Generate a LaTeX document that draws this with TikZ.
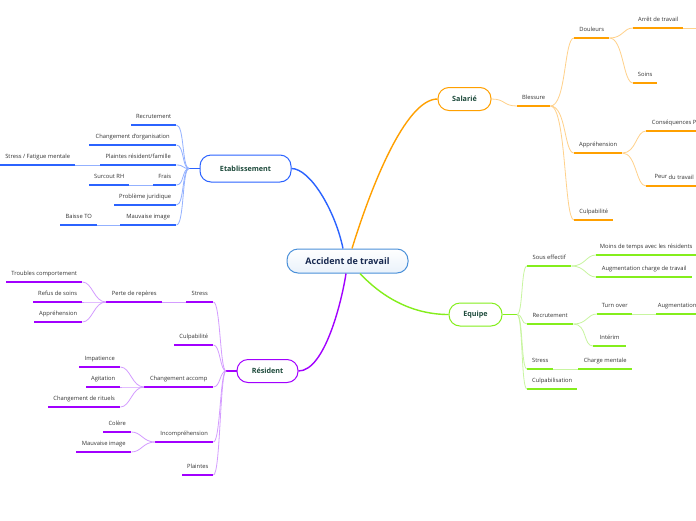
\documentclass[tikz,border=0pt]{standalone}
\usepackage{fontspec}
\setmainfont{Open Sans}
\definecolor{cB}{HTML}{2B63FF}
\definecolor{cBl}{HTML}{93B1FF}
\definecolor{cO}{HTML}{FFA000}
\definecolor{cOl}{HTML}{FFD18A}
\definecolor{cG}{HTML}{84EE1C}
\definecolor{cGl}{HTML}{C8F5A0}
\definecolor{cP}{HTML}{A200FF}
\definecolor{cPl}{HTML}{D49CFF}
\definecolor{cC}{HTML}{4A90D9}
\definecolor{txt}{HTML}{333333}
\definecolor{ttl}{HTML}{1D4A3B}
\definecolor{ctl}{HTML}{16284F}
\newcommand\lff{\fontsize{5.8}{7}\selectfont}
\newcommand\tbf{\fontsize{7.2}{9}\selectfont\bfseries}
\newcommand\cbf{\fontsize{9}{11}\selectfont\bfseries}
\tikzset{
  lf/.style={anchor=south west, inner sep=0pt, text height=4.4pt, text depth=6.3pt,
    font=\lff, text=txt,
    append after command={(\tikzlastnode.south west) edge[draw=#1, line width=1.6pt] (\tikzlastnode.south east)}},
  tb/.style={rounded corners=11pt, draw=#1, line width=1pt, fill=white, font=\tbf, text=ttl, inner sep=0pt},
  mn/.style={draw=#1, line width=1.4pt},
  cn/.style={draw=#1, line width=0.8pt},
}
\begin{document}
\begin{tikzpicture}[x=1pt,y=-1pt]
\clip (0,0) rectangle (696,520);
\fill[white] (0,0) rectangle (696,520);

% main nodes
\node[rounded corners=11pt, draw=cC, line width=1pt, top color=white, bottom color=cC!12,
      font=\cbf, text=ctl, minimum width=121, minimum height=24, inner sep=0pt] (C) at (347.5,261) {Accident de travail};
\node[tb=cB, minimum width=91, minimum height=27] (E) at (245.5,168.5) {Etablissement};
\node[tb=cO, minimum width=53, minimum height=23] (S) at (464.5,99) {Salarié};
\node[tb=cG, minimum width=53, minimum height=23] (Q) at (475.5,314.5) {Equipe};
\node[tb=cP, minimum width=61, minimum height=23] (R) at (267.5,371) {Résident};

% main connectors
\draw[mn=cB] ([xshift=-4.5pt]C.north) .. controls (335,210) and (310,168.5) .. (E.east);
\draw[mn=cO] ([xshift=4.5pt]C.north) .. controls (370,190) and (405,99) .. (S.west);
\draw[mn=cG] ([xshift=12.5pt]C.south) .. controls (380,295) and (410,314.5) .. (Q.west);
\draw[mn=cP] ([xshift=-1.5pt]C.south) .. controls (342,300) and (325,371) .. (R.east);

% ---------------- Etablissement
\node[lf=cB, minimum width=45] (b1) at (131,125) {Recrutement};
\node[lf=cB, minimum width=87] (b2) at (89,145) {Changement d’organisation};
\node[lf=cB, minimum width=76] (b3) at (100,165) {Plaintes résident/famille};
\node[lf=cB, minimum width=75] (b3a) at (0,165) {Stress / Fatigue mentale};
\node[lf=cB, minimum width=23] (b4) at (153,185) {Frais};
\node[lf=cB, minimum width=40] (b4a) at (89,185) {Surcout RH};
\node[lf=cB, minimum width=62] (b5) at (114,205) {Problème juridique};
\node[lf=cB, minimum width=56] (b6) at (120,225) {Mauvaise image};
\node[lf=cB, minimum width=37] (b6a) at (60,225) {Baisse TO};
\coordinate (hE) at (189,168.5);
\draw[mn=cB] (E.west) -- (hE);
\foreach \n in {b1,b2,b3,b4,b5,b6}
  \draw[cn=cBl] (\n.south east) .. controls +(8,0) and +(-7,0) .. (hE);
\draw[cn=cBl] (b3a.south east) -- (b3.south west);
\draw[cn=cBl] (b4a.south east) -- (b4.south west);
\draw[cn=cBl] (b6a.south east) -- (b6.south west);

% ---------------- Salarie
\node[lf=cO, minimum width=33] (o1) at (517,106) {Blessure};
\node[lf=cO, minimum width=35] (o2) at (574,38) {Douleurs};
\node[lf=cO, minimum width=48] (o3) at (574,153) {Appréhension};
\node[lf=cO, minimum width=39] (o4) at (574,220) {Culpabilité};
\node[lf=cO, minimum width=50] (o5) at (633,28) {Arrêt de travail};
\node[lf=cO, minimum width=24] (o6) at (633,83) {Soins};
\node[lf=cO, minimum width=56] (o7) at (646,131) {Conséquences P};
\node[lf=cO, minimum width=56] (o8) at (646,186) {\raisebox{1.5pt}{Peur} du travail};
\coordinate (o5x) at (700,28);
\draw[cn=cOl] (S.east) .. controls +(14,0) and +(-14,0) .. (o1.south west);
\foreach \n in {o2,o3,o4}
  \draw[cn=cOl] (o1.south east) .. controls +(16,0) and +(-10,0) .. (\n.south west);
\foreach \n in {o5,o6}
  \draw[cn=cOl] (o2.south east) .. controls +(14,0) and +(-10,0) .. (\n.south west);
\foreach \n in {o7,o8}
  \draw[cn=cOl] (o3.south east) .. controls +(14,0) and +(-10,0) .. (\n.south west);
\draw[cn=cOl] (o5.south east) -- (o5x);

% ---------------- Equipe
\node[lf=cG, minimum width=44] (g1) at (527,266) {Sous effectif};
\node[lf=cG, minimum width=46] (g2) at (527,324) {Recrutement};
\node[lf=cG, minimum width=26] (g3) at (527,369) {Stress};
\node[lf=cG, minimum width=50] (g4) at (527,389) {Culpabilisation};
\node[lf=cG, minimum width=100] (g5) at (596,255) {Moins de temps avec les résidents};
\node[lf=cG, minimum width=96] (g6) at (596,277) {Augmentation charge de travail};
\node[lf=cG, minimum width=35] (g7) at (597,314) {Turn over};
\node[lf=cG, minimum width=33] (g8) at (593,346) {Intérim};
\node[lf=cG, minimum width=42] (g9) at (656,314) {Augmentation};
\node[lf=cG, minimum width=54] (g10) at (578,369) {Charge mentale};
\coordinate (hQ) at (517,314.5);
\draw[mn=cG] (Q.east) -- (hQ);
\foreach \n in {g1,g2,g3,g4}
  \draw[cn=cGl] (hQ) .. controls +(6,0) and +(-6,0) .. (\n.south west);
\foreach \n in {g5,g6}
  \draw[cn=cGl] (g1.south east) .. controls +(14,0) and +(-10,0) .. (\n.south west);
\foreach \n in {g7,g8}
  \draw[cn=cGl] (g2.south east) .. controls +(14,0) and +(-10,0) .. (\n.south west);
\draw[cn=cGl] (g7.south east) -- (g9.south west);
\draw[cn=cGl] (g3.south east) -- (g10.south west);

% ---------------- Resident
\node[lf=cP, minimum width=27] (p1) at (186,302) {Stress};
\node[lf=cP, minimum width=39] (p2) at (174,345) {Culpabilité};
\node[lf=cP, minimum width=69] (p3) at (144,387) {Changement accomp};
\node[lf=cP, minimum width=58] (p4) at (155,442) {Incompréhension};
\node[lf=cP, minimum width=31] (p5) at (182,475) {Plaintes};
\node[lf=cP, minimum width=56] (p6) at (106,302) {Perte de repères};
\node[lf=cP, minimum width=76] (p7) at (6,282) {Troubles comportement};
\node[lf=cP, minimum width=49] (p8) at (33,302) {Refus de soins};
\node[lf=cP, minimum width=48] (p9) at (34,322) {Appréhension};
\node[lf=cP, minimum width=41] (p10) at (79,367) {Impatience};
\node[lf=cP, minimum width=34] (p11) at (86,387) {Agitation};
\node[lf=cP, minimum width=72] (p12) at (48,407) {Changement de rituels};
\node[lf=cP, minimum width=28] (p13) at (103,432) {Colère};
\node[lf=cP, minimum width=55] (p14) at (76,452) {Mauvaise image};
\coordinate (hR) at (226,371);
\draw[mn=cP] (R.west) -- (hR);
\foreach \n in {p1,p2,p3,p4,p5}
  \draw[cn=cPl] (\n.south east) .. controls +(7,0) and +(-6,0) .. (hR);
\draw[cn=cPl] (p6.south east) -- (p1.south west);
\foreach \n in {p7,p8,p9}
  \draw[cn=cPl] (p6.south west) .. controls +(-12,0) and +(10,0) .. (\n.south east);
\foreach \n in {p10,p11,p12}
  \draw[cn=cPl] (p3.south west) .. controls +(-12,0) and +(10,0) .. (\n.south east);
\foreach \n in {p13,p14}
  \draw[cn=cPl] (p4.south west) .. controls +(-12,0) and +(10,0) .. (\n.south east);
\end{tikzpicture}
\end{document}
